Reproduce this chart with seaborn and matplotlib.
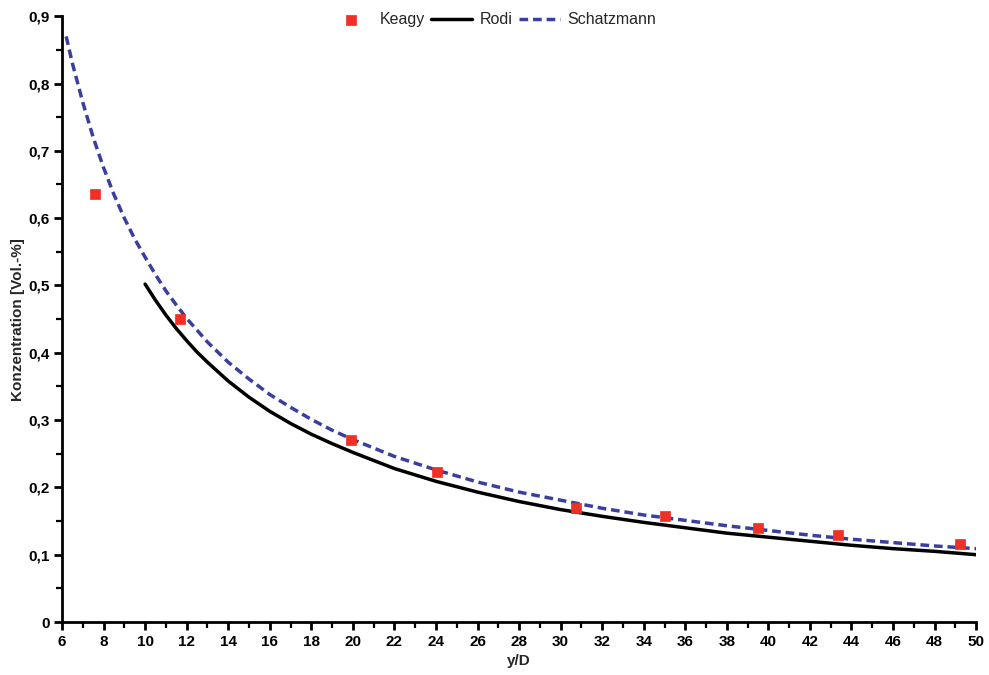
import matplotlib
matplotlib.use("Agg")
import matplotlib.pyplot as plt
from matplotlib.ticker import MultipleLocator, FuncFormatter
import pandas as pd
import seaborn as sns

# Measured concentrations (Keagy)
keagy_x = [7.6, 11.7, 19.9, 24.05, 30.75, 35.0, 39.5, 43.35, 49.2]
keagy_y = [0.636, 0.450, 0.270, 0.223, 0.169, 0.158, 0.140, 0.129, 0.116]

# Rodi model curve
rodi_x = [10, 10.5, 11, 11.5, 12, 12.5, 13, 13.5, 14, 15, 16, 17, 18, 19, 20, 22, 24, 26, 28,
          30, 32, 34, 36, 38, 40, 42, 44, 46, 48, 50]
rodi_y = [0.502, 0.478, 0.456, 0.436, 0.418, 0.401, 0.386, 0.372, 0.358, 0.334, 0.313, 0.295,
          0.279, 0.265, 0.252, 0.228, 0.209, 0.193, 0.179, 0.167, 0.157, 0.148, 0.140, 0.132,
          0.126, 0.120, 0.114, 0.109, 0.105, 0.100]

# Schatzmann model curve
schatz_x = [6.2, 6.5, 7, 7.5, 8, 8.5, 9, 9.5, 10, 10.5, 11, 11.5, 12, 13, 14, 15, 16, 17, 18,
            19, 20, 22, 24, 26, 28, 30, 32, 34, 36, 38, 40, 42, 44, 46, 48, 50]
schatz_y = [0.870, 0.830, 0.772, 0.720, 0.675, 0.635, 0.600, 0.569, 0.542, 0.516, 0.492, 0.471,
            0.451, 0.416, 0.386, 0.361, 0.338, 0.319, 0.301, 0.285, 0.271, 0.246, 0.226, 0.208,
            0.193, 0.181, 0.169, 0.159, 0.151, 0.143, 0.136, 0.129, 0.123, 0.118, 0.113, 0.109]

keagy = pd.DataFrame({"x": keagy_x, "y": keagy_y})
rodi = pd.DataFrame({"x": rodi_x, "y": rodi_y})
schatz = pd.DataFrame({"x": schatz_x, "y": schatz_y})

sns.set_theme(style="ticks")
plt.rcParams["font.family"] = ["Liberation Sans", "DejaVu Sans"]

fig = plt.figure(figsize=(9.89, 6.75), dpi=100)
ax = fig.add_axes([0.0627, 0.0785, 0.9243, 0.8975])

sns.scatterplot(data=keagy, x="x", y="y", ax=ax, marker="s", s=60,
                color="#ee3124", edgecolor="#ee3124", linewidth=0.5,
                label="Keagy", zorder=4)
sns.lineplot(data=rodi, x="x", y="y", ax=ax, color="black", linewidth=2.5,
             label="Rodi", zorder=2)
sns.lineplot(data=schatz, x="x", y="y", ax=ax, color="#3a3f9f", linewidth=2.5,
             linestyle=(0, (2.5, 1.4)), label="Schatzmann", zorder=3)

ax.set_xlim(6, 50)
ax.set_ylim(0, 0.9)
ax.xaxis.set_major_locator(MultipleLocator(2))
ax.xaxis.set_minor_locator(MultipleLocator(1))
ax.yaxis.set_major_locator(MultipleLocator(0.1))
ax.yaxis.set_minor_locator(MultipleLocator(0.05))
ax.yaxis.set_major_formatter(FuncFormatter(
    lambda v, _: "0" if abs(v) < 1e-9 else f"{v:.1f}".replace(".", ",")))

sns.despine(ax=ax)
for side in ("left", "bottom"):
    ax.spines[side].set_linewidth(2.0)
    ax.spines[side].set_color("black")

ax.tick_params(which="major", direction="out", length=6, width=2.0,
               labelsize=11, pad=3, colors="black")
ax.tick_params(which="minor", direction="out", length=4, width=1.6, colors="black")
for lbl in ax.get_xticklabels() + ax.get_yticklabels():
    lbl.set_fontweight("bold")

ax.set_xlabel("y/D", fontsize=11, fontweight="bold", labelpad=4)
ax.set_ylabel("Konzentration [Vol.-%]", fontsize=11, fontweight="bold", labelpad=2)

leg = ax.legend(loc="upper center", bbox_to_anchor=(0.472, 1.03), ncol=3,
                frameon=False, fontsize=11.5, handlelength=2.6,
                columnspacing=0.4, handletextpad=0.45, markerscale=1.0)

fig.savefig("out.png", dpi=100)
